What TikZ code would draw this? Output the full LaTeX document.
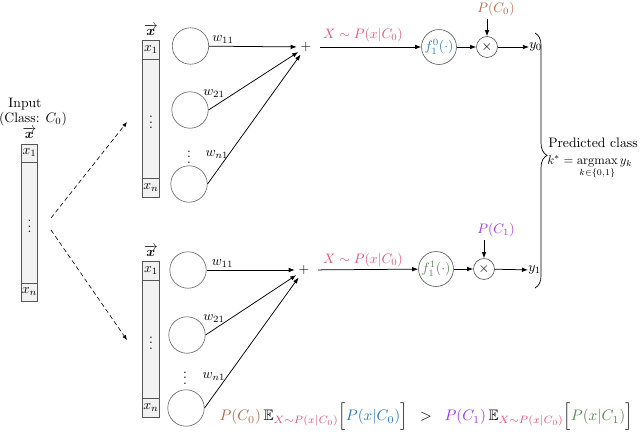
\documentclass[tikz,border=0pt]{standalone}
\usepackage{amsmath,amssymb,bm}
\usetikzlibrary{arrows.meta,decorations.pathreplacing}
\definecolor{cbrown}{RGB}{180,105,70}
\definecolor{cblue}{RGB}{40,120,190}
\definecolor{cpurple}{RGB}{160,50,230}
\definecolor{cgreen}{RGB}{85,135,80}
\definecolor{cpink}{RGB}{225,85,115}
\definecolor{cellfill}{RGB}{242,242,242}
\definecolor{cellline}{RGB}{85,85,85}
\tikzset{
  cell/.style={draw=cellline, fill=cellfill, line width=0.5pt, inner sep=0pt, minimum width=12pt},
  neuron/.style={circle, draw=black!60, line width=0.45pt, minimum size=26.6pt, inner sep=0pt},
  fnode/.style={circle, draw=black!65, line width=0.45pt, minimum size=25.5pt, inner sep=0pt},
  mult/.style={circle, draw=black!70, line width=0.45pt, minimum size=15.3pt, inner sep=0pt},
  plusnode/.style={circle, minimum size=13.1pt, inner sep=0pt},
  conn/.style={-{Latex[length=4.4pt,width=3.3pt]}, line width=0.55pt},
  dconn/.style={-{Latex[length=3.6pt,width=2.9pt]}, dash pattern=on 3.2pt off 2.2pt, line width=0.45pt},
  lbl/.style={inner sep=0pt}
}
\begin{document}
\begin{tikzpicture}[x=0.73pt,y=-0.73pt]
\useasboundingbox (0,0) rectangle (640,436);

% ---------- input column ----------
\node[lbl] (in1) at (25,104) {Input};
\node[lbl] (in2) at (33,119) {(Class: $C_0$)};
\node[lbl] (invec) at (29.5,133) {$\overrightarrow{\bm{x}}$};
\node[cell, minimum height=88.3pt] (amid) at (29.5,222.5) {$\vdots$};
\node[cell, minimum height=13.1pt] (a1) at (29.5,153) {$x_1$};
\node[cell, minimum height=13.1pt] (an) at (29.5,292) {$x_n$};

% dashed arrows
\coordinate (d1s) at (51,218);
\coordinate (d1e) at (127,122);
\coordinate (d2s) at (51,230);
\coordinate (d2e) at (127,340);
\draw[dconn] (d1s) -- (d1e);
\draw[dconn] (d2s) -- (d2e);

% ---------- top network ----------
\node[lbl] (tvec) at (151,30) {$\overrightarrow{\bm{x}}$};
\node[cell, minimum height=86.9pt] (tmid) at (151,118.5) {$\vdots$};
\node[cell, minimum height=13.9pt] (t1) at (151,49.5) {$x_1$};
\node[cell, minimum height=13.9pt] (tn) at (151,187.5) {$x_n$};

\node[neuron] (tc1) at (190.5,46) {};
\node[neuron] (tc2) at (190,110) {};
\node[neuron] (tc3) at (189,184) {};
\node[lbl] (tdots) at (189,153) {$\vdots$};
\node[plusnode] (tplus) at (306,47) {$+$};

\draw[conn] (tc1) -- (tplus);
\draw[conn] (tc2.east) -- (tplus);
\draw[conn] (tc3.east) -- (tplus);
\node[lbl] (tw11) at (223,40) {$w_{11}$};
\node[lbl] (tw21) at (214,94) {$w_{21}$};
\node[lbl] (twn1) at (217,155) {$w_{n1}$};

\node[fnode] (tf) at (439,47) {\textcolor{cblue}{$f_1^0(\cdot)$}};
\node[mult] (tm) at (487,47) {$\times$};
\node[lbl] (tpc) at (496,9) {\textcolor{cbrown}{$P(C_0)$}};
\node[lbl, anchor=west] (ty) at (529,47) {$y_0$};
\draw[conn, shorten <=3.6pt] (tplus) -- (tf);
\node[lbl] (tx) at (363,35) {\textcolor{cpink}{$X\sim P(x|C_0)$}};
\draw[conn] (tf) -- (tm);
\draw[conn] ([yshift=-2.2pt]tpc.south -| tm) -- (tm);
\draw[conn] (tm) -- (ty);

% ---------- bottom network ----------
\node[lbl] (bvec) at (151,251) {$\overrightarrow{\bm{x}}$};
\node[cell, minimum height=86.1pt] (bmid) at (151,339) {$\vdots$};
\node[cell, minimum height=13.9pt] (b1) at (151,270.5) {$x_1$};
\node[cell, minimum height=13.9pt] (bn) at (151,407.5) {$x_n$};

\node[neuron] (bc1) at (188,270) {};
\node[neuron] (bc2) at (187,335) {};
\node[neuron] (bc3) at (186,408) {};
\node[lbl] (bdots) at (185,374) {$\vdots$};
\node[lbl] (bwn1) at (214,377) {$w_{n1}$};
\node[plusnode] (bplus) at (304,270) {$+$};

\draw[conn] (bc1) -- (bplus);
\draw[conn] (bc2.east) -- (bplus);
\draw[conn] (bc3.east) -- (bplus);
\node[lbl] (bw11) at (222.5,264) {$w_{11}$};
\node[lbl] (bw21) at (214,319) {$w_{21}$};

\node[fnode] (bf) at (436,269) {\textcolor{cgreen}{$f_1^1(\cdot)$}};
\node[mult] (bm) at (484,269) {$\times$};
\node[lbl] (bpc) at (496,230) {\textcolor{cpurple}{$P(C_1)$}};
\node[lbl, anchor=west] (by) at (528,270) {$y_1$};
\draw[conn, shorten <=3.6pt] (bplus) -- (bf);
\node[lbl] (bx) at (363,260) {\textcolor{cpink}{$X\sim P(x|C_0)$}};
\draw[conn] (bf) -- (bm);
\draw[conn] ([yshift=-2.2pt]bpc.south -| bm) -- (bm);
\draw[conn] (bm) -- (by);

% ---------- brace and decision ----------
\coordinate (bt) at (535,33);
\coordinate (bb) at (535,288);
\draw[line width=0.5pt, decorate, decoration={brace, amplitude=8.8pt, aspect=0.48}] (bt) -- (bb);
\node[lbl, anchor=west] (pred) at (548,143) {Predicted class};
\node[lbl, anchor=north west] (kstar) at (547,155) {\scalebox{0.92}{$\displaystyle k^* = \operatorname*{argmax}_{k\in\{0,1\}} y_k$}};

% ---------- bottom formula ----------
\node[lbl] (ineq) at (426,417) {\scalebox{1.11}{$\textcolor{cbrown}{P(C_0)}\,\mathbb{E}_{\textcolor{cpink}{X\sim P(x|C_0)}}\Big[\textcolor{cblue}{P(x|C_0)}\Big]\;\;>\;\;\textcolor{cpurple}{P(C_1)}\,\mathbb{E}_{\textcolor{cpink}{X\sim P(x|C_0)}}\Big[\textcolor{cgreen}{P(x|C_1)}\Big]$}};
\end{tikzpicture}
\end{document}
